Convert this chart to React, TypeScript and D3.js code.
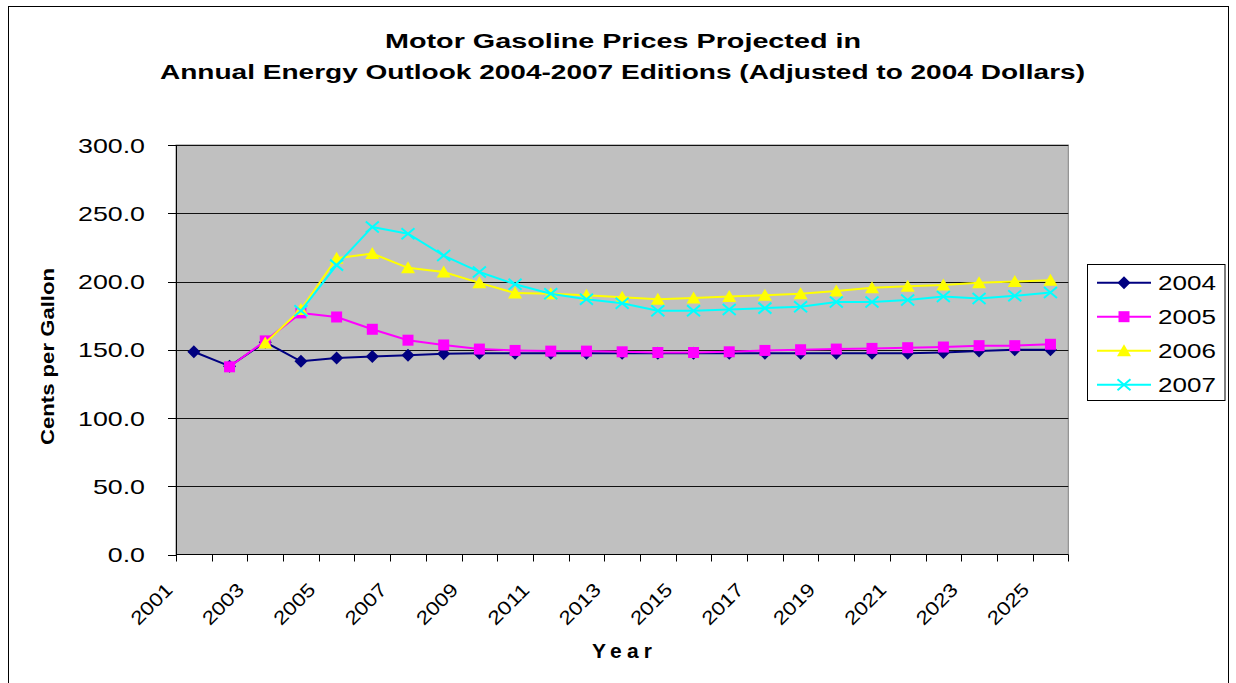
import React from 'react';
import * as d3 from 'd3';

const years: number[] = [2001, 2002, 2003, 2004, 2005, 2006, 2007, 2008, 2009, 2010, 2011, 2012, 2013, 2014, 2015, 2016, 2017, 2018, 2019, 2020, 2021, 2022, 2023, 2024, 2025];

const aeo2004: (number | null)[] = [148.5, 138, 155.5, 141.5, 144, 145, 146, 147, 147.5, 147.5, 147.5, 147.5, 147.5, 147.5, 147.5, 147.5, 147.5, 147.5, 147.5, 147.5, 147.5, 148, 149, 150, 150];
const aeo2005: (number | null)[] = [null, 137.5, 156.5, 177, 174, 165, 157, 153.5, 150.5, 149.5, 149, 149, 148.5, 148, 148, 148.5, 149.5, 150, 150.5, 151, 151.5, 152, 153, 153, 154];
const aeo2006: (number | null)[] = [null, null, 155, 179.5, 217, 220.5, 210, 207, 199, 191.5, 191, 190, 188.5, 187, 188, 189, 190, 191, 193, 195.5, 196.5, 197.5, 199, 200, 201];
const aeo2007: (number | null)[] = [null, null, null, 178.5, 212, 240, 235, 219, 207, 198, 191, 187, 184, 178.5, 178.5, 179.5, 180.5, 181.5, 185, 185, 186.5, 189, 187.5, 189.5, 192];

const seriesNames: string[] = ['2004', '2005', '2006', '2007'];
const yTicks: number[] = [0, 50, 100, 150, 200, 250, 300];
const xLabelYears: number[] = [2001, 2003, 2005, 2007, 2009, 2011, 2013, 2015, 2017, 2019, 2021, 2023, 2025];

const titleLine1 = 'Motor Gasoline Prices Projected in';
const titleLine2 = 'Annual Energy Outlook 2004-2007 Editions (Adjusted to 2004 Dollars)';
const xTitle = 'Year';
const yTitle = 'Cents per Gallon';

const W = 1236;
const H = 683;
const plot = { left: 176, right: 1068.3, top: 145, bottom: 554.5 };
const FONT = "'Liberation Sans', Arial, Helvetica, sans-serif";

type Marker = 'diamond' | 'square' | 'triangle' | 'x';

const markerPath: Record<Marker, string> = {
  diamond: 'M0,-6.5L6.5,0L0,6.5L-6.5,0Z',
  square: 'M-5.5,-5.5h11v11h-11Z',
  triangle: 'M0,-6.5L7,5.5L-7,5.5Z',
  x: 'M-6.5,-5.5L6.5,5.5M-6.5,5.5L6.5,-5.5',
};

function MarkerShape({ type, color, x, y }: { type: Marker; color: string; x: number; y: number }) {
  if (type === 'x') {
    return <path d={markerPath.x} transform={`translate(${x},${y})`} stroke={color} strokeWidth={2} fill="none" />;
  }
  return <path d={markerPath[type]} transform={`translate(${x},${y})`} fill={color} stroke="none" />;
}

export default function App() {
  const x = d3.scaleBand<number>().domain(years).range([plot.left, plot.right]).paddingInner(0).paddingOuter(0);
  const cx = (yr: number) => (x(yr) as number) + x.bandwidth() / 2;
  const y = d3.scaleLinear().domain([0, 300]).range([plot.bottom, plot.top]);

  const series: { name: string; values: (number | null)[]; color: string; marker: Marker }[] = [
    { name: seriesNames[0], values: aeo2004, color: '#000080', marker: 'diamond' },
    { name: seriesNames[1], values: aeo2005, color: '#FF00FF', marker: 'square' },
    { name: seriesNames[2], values: aeo2006, color: '#FFFF00', marker: 'triangle' },
    { name: seriesNames[3], values: aeo2007, color: '#00FFFF', marker: 'x' },
  ];

  const line = d3
    .line<[number, number | null]>()
    .defined((d) => d[1] != null)
    .x((d) => cx(d[0]))
    .y((d) => y(d[1] as number));

  const boundaries = years.map((yr) => x(yr) as number).concat([plot.right]);

  const legendX = 1087.5;
  const legendY = 264.5;
  const legendRowY = (i: number) => 282.7 + i * 34;

  return (
    <svg width={W} height={H} style={{ position: 'absolute', left: 0, top: 0, display: 'block' }} fontFamily={FONT}>
      <rect x={0} y={0} width={W} height={H} fill="#fff" />
      <rect x={8.5} y={6.5} width={1220} height={700} fill="#fff" stroke="#000" strokeWidth={1} />

      {/* title */}
      <text x={623} y={48.3} textAnchor="middle" fontSize={20} fontWeight="bold" textLength={476} lengthAdjust="spacingAndGlyphs">
        {titleLine1}
      </text>
      <text x={622.5} y={79.3} textAnchor="middle" fontSize={20} fontWeight="bold" textLength={925} lengthAdjust="spacingAndGlyphs">
        {titleLine2}
      </text>

      {/* plot area */}
      <rect x={plot.left} y={plot.top} width={plot.right - plot.left} height={plot.bottom - plot.top} fill="#C0C0C0" stroke="#808080" strokeWidth={1} />
      {yTicks.filter((t) => t > 0).map((t) => (
        <line key={`g${t}`} x1={plot.left} x2={plot.right} y1={Math.round(y(t)) + 0.5} y2={Math.round(y(t)) + 0.5} stroke="#111" strokeWidth={1} />
      ))}

      {/* axes */}
      <line x1={plot.left + 0.5} x2={plot.left + 0.5} y1={plot.top} y2={plot.bottom} stroke="#000" strokeWidth={1} />
      <line x1={plot.left} x2={plot.right} y1={plot.bottom} y2={plot.bottom} stroke="#000" strokeWidth={1} />
      {yTicks.map((t) => (
        <line key={`yt${t}`} x1={168} x2={plot.left} y1={Math.round(y(t)) + 0.5} y2={Math.round(y(t)) + 0.5} stroke="#000" strokeWidth={1} />
      ))}
      {boundaries.map((bx, i) => (
        <line key={`xt${i}`} x1={Math.round(bx) + 0.5} x2={Math.round(bx) + 0.5} y1={plot.bottom} y2={plot.bottom + 7} stroke="#000" strokeWidth={1} />
      ))}

      {/* y tick labels */}
      {yTicks.map((t) => (
        <text key={`yl${t}`} transform={`translate(145,${y(t) + 7.5}) scale(1.34,1)`} textAnchor="end" fontSize={20} fill="#000">
          {t.toFixed(1)}
        </text>
      ))}

      {/* x tick labels */}
      {xLabelYears.map((yr) => (
        <text key={`xl${yr}`} transform={`translate(${cx(yr) - 20},${591}) rotate(-45)`} textAnchor="end" fontSize={19} textLength={50} lengthAdjust="spacingAndGlyphs" fill="#000">
          {String(yr)}
        </text>
      ))}

      {/* axis titles */}
      <text x={622} y={658.3} textAnchor="middle" fontSize={21} fontWeight="bold" textLength={60} lengthAdjust="spacing">
        {xTitle}
      </text>
      <text transform={`translate(53.5,356.5) rotate(-90)`} textAnchor="middle" fontSize={18.5} fontWeight="bold" textLength={177} lengthAdjust="spacingAndGlyphs">
        {yTitle}
      </text>

      {/* series */}
      {series.map((s) => {
        const pts: [number, number | null][] = years.map((yr, i) => [yr, s.values[i]]);
        return (
          <g key={s.name}>
            <path d={line(pts) || ''} fill="none" stroke={s.color} strokeWidth={2} strokeLinejoin="round" />
            {pts.filter((p) => p[1] != null).map((p) => (
              <MarkerShape key={p[0]} type={s.marker} color={s.color} x={cx(p[0])} y={y(p[1] as number)} />
            ))}
          </g>
        );
      })}

      {/* legend */}
      <rect x={legendX} y={legendY} width={137.5} height={136} fill="#fff" stroke="#000" strokeWidth={1} />
      {series.map((s, i) => (
        <g key={`lg${s.name}`}>
          <line x1={1097} x2={1151} y1={legendRowY(i)} y2={legendRowY(i)} stroke={s.color} strokeWidth={2} />
          <MarkerShape type={s.marker} color={s.color} x={1124} y={legendRowY(i)} />
          <text transform={`translate(1158,${legendRowY(i) + 7.7}) scale(1.24,1)`} fontSize={21} fill="#000">
            {s.name}
          </text>
        </g>
      ))}
    </svg>
  );
}
